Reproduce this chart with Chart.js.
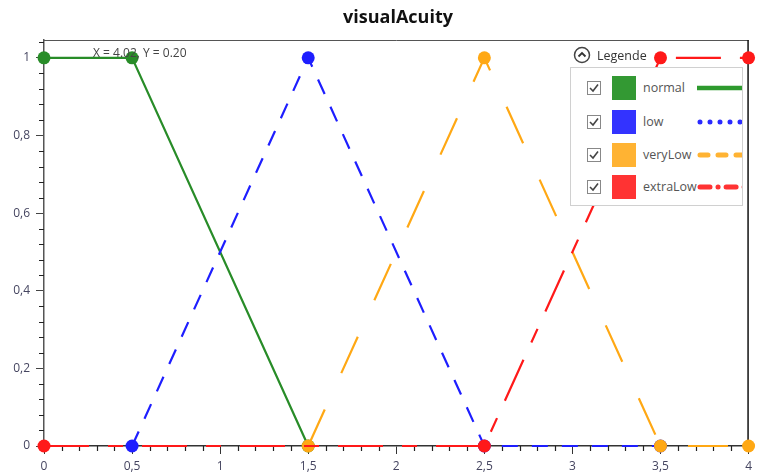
<!DOCTYPE html>
<html>
<head>
<meta charset="utf-8">
<script src="https://cdn.jsdelivr.net/npm/chart.js@4.4.1/dist/chart.umd.min.js"></script>
<style>
  body { margin: 0; background: #fff; font-family: 'Segoe UI', 'Open Sans', 'Noto Sans', sans-serif; }
  #wrap { position: relative; width: 757px; height: 475px; overflow: hidden; }
  #chart { position: absolute; left: 0; top: 0; }
  #title { position: absolute; left: 298px; width: 200px; top: 4px; text-align: center; font-weight: bold; font-size: 18px; color: #111; }
  #coords { position: absolute; left: 93px; top: 44px; font-size: 12px; color: #444; }
  #legend-head { position: absolute; left: 573px; top: 45px; height: 20px; display: flex; align-items: center; font-size: 12.5px; color: #333; }
  #legend-head svg { margin-right: 6px; }
  #legend-box { position: absolute; left: 570px; top: 67px; width: 171px; height: 137px; border: 1px solid #d0d0d0; background: #fff; overflow: hidden; }
  .row { position: absolute; left: 0; height: 26px; width: 200px; }
  .row .cb { position: absolute; left: 16px; top: 6px; }
  .row .sq { position: absolute; left: 41px; top: 1px; width: 24px; height: 24px; }
  .row .lbl { position: absolute; left: 72px; top: 4px; font-size: 12.5px; color: #555; }
  .row .smp { position: absolute; left: 126px; top: 8px; }
</style>
</head>
<body>
<div id="wrap">
  <canvas id="chart" width="757" height="475"></canvas>
  <div id="title">visualAcuity</div>
  <div id="coords">X = 4.02, Y = 0.20</div>
  <div id="legend-head">
    <svg width="18" height="18" viewBox="0 0 18 18"><circle cx="9" cy="9" r="7.5" fill="#fff" stroke="#444" stroke-width="1.5"/><path d="M5.5 10.5 L9 7 L12.5 10.5" fill="none" stroke="#333" stroke-width="1.8"/></svg>
    <span>Legende</span>
  </div>
  <div id="legend-box"></div>
</div>
<script>
// Series names and colours
var seriesNames = ['normal', 'low', 'veryLow', 'extraLow'];
var lineColors = ['rgb(40,140,40)', 'rgb(30,30,255)', 'rgb(255,168,20)', 'rgb(255,25,25)'];
var boxColors = ['#339933', '#3333ff', '#ffb333', '#ff3333'];

// Membership function points of each series
var normalX = [0, 0.5, 1.5];
var normalY = [1, 1, 0];
var lowX = [0.5, 1.5, 2.5, 3.5];
var lowY = [0, 1, 0, 0];
var veryLowX = [1.5, 2.5, 3.5, 4];
var veryLowY = [0, 1, 0, 0];
var extraLowX = [0, 2.5, 3.5, 4];
var extraLowY = [0, 0, 1, 1];

// Axis ticks
var xTickValues = [0, 0.5, 1, 1.5, 2, 2.5, 3, 3.5, 4];
var yTickValues = [0, 0.2, 0.4, 0.6, 0.8, 1];

function toPoints(xs, ys) {
    var pts = [];
    for (var i = 0; i < xs.length; i++) {
        pts.push({ x: xs[i], y: ys[i] });
    }
    return pts;
}

function commaLabel(value) {
    return String(value).replace('.', ',');
}

// Minor ticks plus top and right frame lines
var framePlugin = {
    id: 'frame',
    beforeDatasetsDraw: function(chart) {
        var ctx = chart.ctx;
        var area = chart.chartArea;
        var xs = chart.scales.x;
        var ys = chart.scales.y;
        ctx.save();
        ctx.strokeStyle = '#222';
        ctx.lineWidth = 1.2;
        ctx.beginPath();
        for (var i = 1; i < 40; i++) {
            if (i % 5 === 0) continue;
            var px = Math.round(xs.getPixelForValue(i / 10)) + 0.5;
            ctx.moveTo(px, area.bottom);
            ctx.lineTo(px, area.bottom + 5);
        }
        for (var j = 1; j * 0.04 <= ys.max; j++) {
            if (j % 5 === 0) continue;
            var py = Math.round(ys.getPixelForValue(j * 0.04)) + 0.5;
            ctx.moveTo(area.left, py);
            ctx.lineTo(area.left - 5, py);
        }
        ctx.stroke();

        ctx.strokeStyle = '#555';
        ctx.lineWidth = 1;
        ctx.beginPath();
        ctx.moveTo(area.left, area.top + 0.5);
        ctx.lineTo(area.right, area.top + 0.5);
        ctx.stroke();
        ctx.strokeStyle = '#111';
        ctx.lineWidth = 1.5;
        ctx.beginPath();
        ctx.moveTo(area.right - 0.5, area.top);
        ctx.lineTo(area.right - 0.5, area.bottom);
        ctx.stroke();
        ctx.restore();
    }
};

var allX = [normalX, lowX, veryLowX, extraLowX];
var allY = [normalY, lowY, veryLowY, extraLowY];
var dashes = [[], [16, 14], [40, 40], [45, 19, 15, 19]];

var datasets = [];
for (var k = 0; k < seriesNames.length; k++) {
    datasets.push({
        label: seriesNames[k],
        data: toPoints(allX[k], allY[k]),
        borderColor: lineColors[k],
        backgroundColor: lineColors[k],
        borderWidth: 2.2,
        borderDash: dashes[k],
        pointRadius: 6.5,
        pointBorderWidth: 0,
        pointHoverRadius: 6.5,
        tension: 0,
        clip: false,
        order: seriesNames.length - k
    });
}

var ctx = document.getElementById('chart').getContext('2d');
var chart = new Chart(ctx, {
    type: 'scatter',
    data: { datasets: datasets },
    options: {
        responsive: false,
        animation: false,
        showLine: true,
        layout: { autoPadding: false, padding: { top: 40, right: 4, left: 0, bottom: 0 } },
        plugins: { legend: { display: false }, tooltip: { enabled: false }, title: { display: false } },
        scales: {
            x: {
                type: 'linear',
                min: 0,
                max: 4,
                afterFit: function(scale) { scale.height = 29; },
                afterBuildTicks: function(scale) {
                    scale.ticks = xTickValues.map(function(v) { return { value: v }; });
                },
                border: { display: true, color: '#333', width: 1.5 },
                grid: { drawOnChartArea: false, drawTicks: true, tickLength: 8, color: '#333' },
                ticks: {
                    padding: 5,
                    maxRotation: 0,
                    autoSkip: false,
                    color: '#454560',
                    font: { size: 12, family: "'Segoe UI', 'Open Sans', sans-serif" },
                    callback: commaLabel
                }
            },
            y: {
                type: 'linear',
                min: 0,
                max: 1.046,
                afterFit: function(scale) { scale.width = 44; },
                afterBuildTicks: function(scale) {
                    scale.ticks = yTickValues.map(function(v) { return { value: v }; });
                },
                border: { display: true, color: '#555', width: 1.5 },
                grid: { drawOnChartArea: false, drawTicks: true, tickLength: 8, color: '#444' },
                ticks: {
                    padding: 6,
                    autoSkip: false,
                    color: '#454560',
                    font: { size: 12, family: "'Segoe UI', 'Open Sans', sans-serif" },
                    callback: commaLabel
                }
            }
        }
    },
    plugins: [framePlugin]
});

// HTML legend with checkbox, colour box, name and line sample
var sampleSvgs = [
    '<line x1="0" y1="5" x2="50" y2="5" stroke="#2e9a2e" stroke-width="4.5"/>',
    '<line x1="3" y1="5" x2="50" y2="5" stroke="#2a2aff" stroke-width="5" stroke-linecap="round" stroke-dasharray="0 10"/>',
    '<line x1="3" y1="5" x2="50" y2="5" stroke="#ffb333" stroke-width="5" stroke-linecap="round" stroke-dasharray="8 10"/>',
    '<line x1="3" y1="5" x2="50" y2="5" stroke="#ff3333" stroke-width="5" stroke-linecap="round" stroke-dasharray="10 8 0.1 8"/>'
];
var rowTops = [7, 41, 74, 106];
var box = document.getElementById('legend-box');
for (var r = 0; r < seriesNames.length; r++) {
    var row = document.createElement('div');
    row.className = 'row';
    row.style.top = rowTops[r] + 'px';
    row.innerHTML =
        '<svg class="cb" width="14" height="14" viewBox="0 0 14 14"><rect x="0.5" y="0.5" width="13" height="13" fill="#fff" stroke="#888"/><path d="M3 7 L6 10 L11 3.5" fill="none" stroke="#444" stroke-width="1.6"/></svg>' +
        '<div class="sq" style="background:' + boxColors[r] + '"></div>' +
        '<div class="lbl">' + seriesNames[r] + '</div>' +
        '<svg class="smp" width="50" height="10">' + sampleSvgs[r] + '</svg>';
    box.appendChild(row);
}
</script>
</body>
</html>
